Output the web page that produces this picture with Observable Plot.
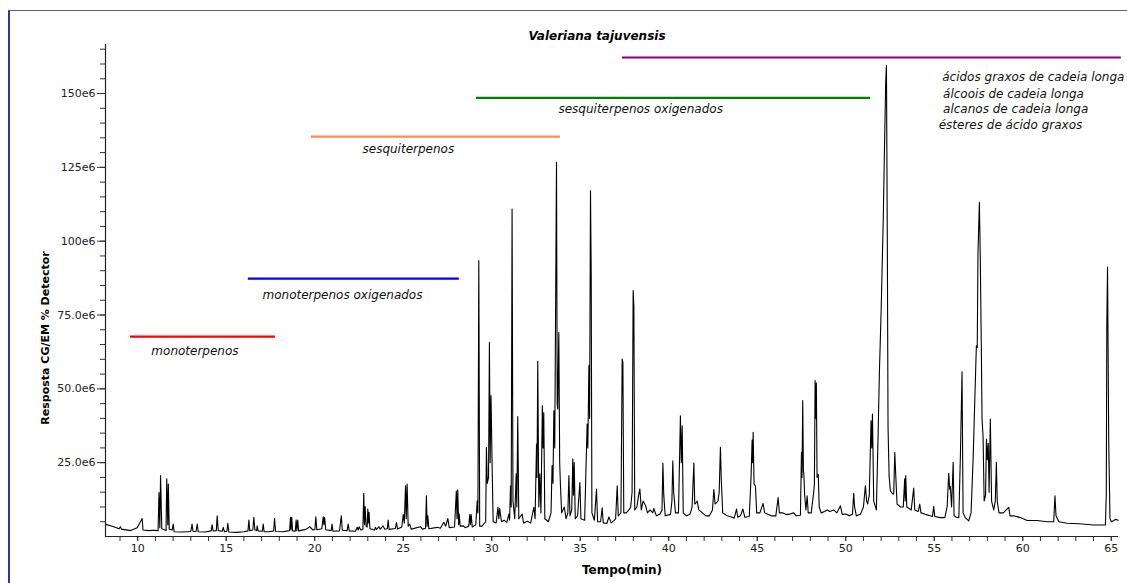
<!DOCTYPE html>
<html>
<head>
<meta charset="utf-8">
<script src="https://cdn.jsdelivr.net/npm/d3@7"></script>
<script src="https://cdn.jsdelivr.net/npm/@observablehq/plot@0.6"></script>
<style>
  html, body { margin: 0; padding: 0; background: #fff; }
  #wrap { position: relative; width: 1127px; height: 583px; overflow: hidden; }
  #frame { position: absolute; left: 8px; top: 10px; width: 1140px; height: 600px;
           border-left: 2px solid #33339a; border-top: 1px solid #5c5cae; pointer-events: none; }
  #ylab { position: absolute; left: 45px; top: 338px; transform: translate(-50%, -50%) rotate(-90deg);
          font: bold 11px "DejaVu Sans", sans-serif; color: #000; white-space: nowrap; }
</style>
</head>
<body>
<div id="wrap"><div id="chart"></div><div id="ylab"></div><div id="frame"></div></div>
<script>
// ---- Texts ----
const title = "Valeriana tajuvensis";
const xLabel = "Tempo(min)";
const yLabel = "Resposta CG/EM % Detector";

// ---- Compound classes (retention-time ranges) ----
const classNames = ["monoterpenos", "monoterpenos oxigenados", "sesquiterpenos", "sesquiterpenos oxigenados", "ácidos graxos etc."];
const classStart = [9.59, 16.25, 19.81, 29.14, 37.38];
const classEnd   = [17.78, 28.17, 33.88, 51.40, 65.57];
const classLevel = [67.7, 87.3, 135.4, 148.5, 162.2];   // ×1e6
const classColor = ["#ff0000", "#0000ff", "#ff8a55", "#008000", "#800080"];

// ---- Class annotations ----
const noteText  = ["monoterpenos", "monoterpenos oxigenados", "sesquiterpenos", "sesquiterpenos oxigenados",
                   "ácidos graxos de cadeia longa", "álcoois de cadeia longa", "alcanos de cadeia longa", "ésteres de ácido graxos"];
const noteTime  = [10.77, 17.05, 22.70, 33.77, 55.45, 55.50, 55.50, 55.25];
const noteLevel = [62.9, 81.6, 131.3, 144.8, 155.4, 149.7, 144.6, 139.2];

// ---- Axis ticks ----
const xTicks = [10, 15, 20, 25, 30, 35, 40, 45, 50, 55, 60, 65];
const yTicks = [25, 50, 75, 100, 125, 150];
const yTickLabels = ["25.0e6", "50.0e6", "75.0e6", "100e6", "125e6", "150e6"];

// ---- Chromatogram trace: [time (min), response (×1e6)] ----
const chromatogram = [
[8.2,4.1],[8.6,3.4],[8.95,2.6],[9.02,3.3],[9.08,2.5],[9.6,2.0],[9.97,3.0],[10.25,6.1],[10.3,2.2],[10.6,2.0],[10.9,2.1],[11.15,2.0],
[11.2,14.9],[11.25,3.0],[11.29,20.6],[11.36,2.6],[11.6,2.0],[11.64,19.5],[11.7,4.0],[11.73,17.8],[11.78,2.5],[11.95,2.2],[12.0,4.2],
[12.06,1.6],[12.5,1.5],[13.0,1.7],[13.07,4.2],[13.12,1.8],[13.3,1.7],[13.36,4.2],[13.42,1.6],[13.8,1.5],[14.15,1.9],[14.2,4.0],
[14.26,1.9],[14.44,2.0],[14.49,7.0],[14.55,2.0],[14.78,1.8],[14.83,3.1],[14.9,1.6],[15.04,1.8],[15.09,4.5],[15.15,1.5],[15.6,1.4],
[16.0,1.6],[16.23,1.9],[16.28,5.6],[16.33,2.0],[16.5,2.2],[16.56,6.5],[16.62,2.2],[16.72,2.0],[16.75,3.6],[16.8,1.9],[17.04,1.8],
[17.09,4.2],[17.14,1.6],[17.4,1.6],[17.68,1.9],[17.73,6.1],[17.79,1.7],[18.2,1.6],[18.58,2.0],[18.63,6.5],[18.66,2.2],[18.7,6.5],
[18.75,1.9],[18.9,1.8],[18.95,5.6],[18.99,2.0],[19.04,5.6],[19.09,1.9],[19.5,2.4],[19.72,3.3],[19.9,2.2],[20.01,2.4],[20.06,6.7],
[20.12,2.3],[20.4,2.6],[20.48,6.7],[20.52,4.0],[20.56,6.5],[20.62,2.3],[20.93,2.0],[20.98,4.2],[21.03,1.8],[21.4,1.9],[21.5,7.0],
[21.56,2.1],[21.83,2.0],[21.89,4.2],[21.95,1.9],[22.3,1.8],[22.4,3.1],[22.45,2.2],[22.51,3.3],[22.6,2.2],[22.72,2.4],[22.77,14.6],
[22.81,4.0],[22.85,10.1],[22.9,3.5],[22.96,3.2],[23.0,9.3],[23.03,4.5],[23.07,8.2],[23.12,2.6],[23.38,2.2],[23.43,3.1],[23.5,2.4],
[23.62,3.3],[23.7,2.5],[23.86,3.6],[23.95,2.5],[24.1,2.6],[24.15,5.6],[24.2,2.4],[24.55,2.7],[24.62,4.7],[24.68,2.5],[24.92,3.2],
[25.0,7.4],[25.06,4.5],[25.13,17.2],[25.17,6.0],[25.22,17.8],[25.28,3.5],[25.37,4.2],[25.45,2.5],[25.97,3.3],[26.1,2.5],[26.26,2.8],
[26.31,13.8],[26.35,3.5],[26.39,7.0],[26.45,2.6],[26.92,3.1],[27.1,2.8],[27.29,4.8],[27.4,3.5],[27.52,6.1],[27.6,3.0],[27.9,3.2],
[28.0,15.4],[28.04,6.0],[28.08,15.8],[28.13,4.0],[28.16,7.6],[28.22,3.5],[28.4,3.6],[28.5,3.0],[28.7,3.5],[28.76,7.4],[28.8,4.0],
[28.84,7.4],[28.9,3.2],[29.1,4.0],[29.18,12.1],[29.22,8.0],[29.27,93.4],[29.32,3.5],[29.45,3.5],[29.66,5.0],[29.7,30.2],[29.75,18],
[29.82,20],[29.87,65.8],[29.91,25],[29.96,47.7],[30.02,24.7],[30.08,5.0],[30.25,4.6],[30.35,9.9],[30.4,6.0],[30.45,9.5],[30.55,5.0],
[30.7,5.5],[30.85,4.8],[30.97,7.6],[31.01,5.5],[31.06,17.2],[31.1,10],[31.15,110.9],[31.2,12],[31.3,6.0],[31.38,21.2],[31.42,10],[31.47,40.6],
[31.53,6.0],[31.72,7.6],[31.8,4.5],[32.0,5.2],[32.2,4.6],[32.38,9.9],[32.45,6.0],[32.53,31.3],[32.56,20],[32.6,59.3],[32.66,10],[32.72,21.2],
[32.78,8.0],[32.86,44.3],[32.9,30],[32.94,42],[33.0,6.0],[33.2,5.0],[33.35,8.0],[33.41,24.0],[33.46,18],[33.51,42.6],[33.56,30],
[33.66,126.7],[33.7,45],[33.73,43.2],[33.79,69.1],[33.84,25],[33.88,17.7],[33.95,8.0],[34.1,10],[34.2,6.0],[34.3,8.0],[34.36,20.6],
[34.42,7.0],[34.52,9.0],[34.58,26.3],[34.62,14],[34.66,25],[34.72,6.0],[34.85,7.0],[34.98,18.3],[35.04,6.0],[35.25,5.5],[35.39,38.1],
[35.43,30],[35.49,57.9],[35.53,40],[35.58,117.1],[35.62,88.9],[35.66,8.0],[35.8,5.5],[35.92,16.1],[35.98,5.0],[36.15,5.0],[36.24,9.7],
[36.3,4.6],[36.5,4.4],[36.62,6.6],[36.75,4.6],[36.9,5.4],[37.0,6.0],[37.09,17.2],[37.15,7.0],[37.3,8.0],[37.37,60.1],[37.41,59],
[37.46,8.0],[37.6,8.0],[37.75,9.0],[37.85,10],[37.93,15],[37.99,83.3],[38.03,78],[38.08,9.0],[38.2,10],[38.3,14],[38.37,16.1],
[38.45,9.0],[38.55,12],[38.69,10.5],[38.8,8.0],[38.95,9.0],[39.1,8.0],[39.16,9.5],[39.3,7.0],[39.5,7.5],[39.62,9.0],[39.67,24.9],
[39.72,14],[39.8,7.0],[40.1,7.5],[40.18,12],[40.23,25.6],[40.28,15],[40.38,8.0],[40.55,8.0],[40.66,40.9],[40.71,25],[40.76,37.5],
[40.82,8.0],[41.0,7.0],[41.2,7.5],[41.32,10],[41.42,24.9],[41.47,11],[41.55,11.5],[41.61,12],[41.7,9.0],[41.9,8.0],[42.1,7.0],
[42.3,7.0],[42.47,9.0],[42.55,15.9],[42.62,11],[42.78,12],[42.85,15],[42.92,30.2],[42.97,19],[43.05,8.0],[43.3,7.0],[43.6,6.5],
[43.7,6.2],[43.83,9.3],[43.9,6.5],[44.05,7.0],[44.19,9.3],[44.3,6.5],[44.55,6.8],[44.65,20],[44.71,32.7],[44.74,25],[44.77,35.3],
[44.82,17.9],[44.9,17],[44.97,8.0],[45.15,8.0],[45.33,11.2],[45.42,8.0],[45.6,7.5],[45.8,7.0],[46.05,7.0],[46.18,13.2],[46.25,8.0],
[46.45,8.0],[46.6,7.5],[46.8,7.5],[47.06,8.0],[47.2,7.0],[47.44,7.2],[47.5,28.5],[47.53,20],[47.57,46.0],[47.61,22],[47.63,21.7],
[47.68,14],[47.75,9.0],[47.82,13.8],[47.88,8.0],[48.05,8.0],[48.19,15],[48.23,18],[48.27,52.8],[48.3,40],[48.34,52],[48.38,20],
[48.45,21],[48.5,10],[48.61,8.0],[48.8,8.5],[48.95,9.0],[49.1,8.5],[49.32,9.0],[49.5,8.0],[49.7,10.4],[49.8,7.5],[50.0,7.6],
[50.2,7.0],[50.38,7.5],[50.45,14.6],[50.5,10],[50.6,7.0],[50.83,7.5],[51.0,10],[51.11,17.2],[51.18,12],[51.24,11],[51.33,14],
[51.43,39.2],[51.47,30],[51.51,41.5],[51.58,12],[51.73,9.0],[51.83,34.7],[51.9,55],[52.0,76.5],[52.12,107.5],[52.2,135.2],
[52.26,154.4],[52.3,159.5],[52.35,99],[52.39,37],[52.45,20.6],[52.52,15.5],[52.65,14.4],[52.71,14.4],[52.77,28.5],[52.83,20.1],
[52.9,11],[53.09,10],[53.25,10],[53.33,19.5],[53.36,12],[53.39,20.6],[53.45,10],[53.7,9.0],[53.84,16.4],[53.9,9.0],[54.1,8.5],
[54.18,11],[54.25,8.0],[54.5,7.5],[54.78,7.0],[54.9,6.8],[54.97,10.2],[55.03,6.8],[55.35,6.4],[55.6,6.4],[55.73,10.2],[55.82,21.4],
[55.87,16],[55.91,17],[55.98,10],[56.07,25.1],[56.12,7.0],[56.25,6.5],[56.39,6.4],[56.48,27.9],[56.57,55.8],[56.63,8.0],[56.75,6.4],
[56.95,5.3],[57.08,8.0],[57.2,26.8],[57.29,46],[57.38,64.6],[57.43,64],[57.47,95.7],[57.55,113.2],[57.6,95],[57.66,64],[57.7,40],
[57.76,33.6],[57.82,12],[57.9,14],[57.95,33],[58.0,26],[58.05,31.6],[58.1,15],[58.17,39.8],[58.24,12],[58.36,9.0],[58.45,12],
[58.51,25.1],[58.56,12],[58.66,8.0],[58.9,8.0],[59.21,9.9],[59.28,7.0],[59.49,7.0],[59.87,6.4],[60.25,5.4],[60.8,5.4],[61.38,5.0],
[61.75,5.0],[61.82,13.8],[61.88,7.0],[62.04,5.0],[62.5,4.5],[63.2,4.3],[64.01,3.9],[64.67,3.9],[64.72,14.1],[64.75,71.4],[64.79,91.2],
[64.86,30.8],[64.93,6.0],[65.01,5.0],[65.14,5.4],[65.24,5.8],[65.4,5.5]
];

// ---- Build tables ----
const trace = chromatogram.map(([t, v]) => ({t, v}));
const classes = classNames.map((name, i) => ({name, x1: classStart[i], x2: classEnd[i], y: classLevel[i], color: classColor[i]}));
const notes = noteText.map((text, i) => ({text, x: noteTime[i], y: noteLevel[i]}));
const yLabelMap = new Map(yTicks.map((d, i) => [d, yTickLabels[i]]));

const xDomain = [8.18, 65.41];
const yDomain = [0, 166.6];
const font = "'DejaVu Sans', sans-serif";

const chart = Plot.plot({
  width: 1127,
  height: 583,
  marginLeft: 105,
  marginRight: 9,
  marginTop: 44,
  marginBottom: 47,
  style: {fontFamily: font, fontSize: "11px", background: "white", color: "#222"},
  x: {domain: xDomain},
  y: {domain: yDomain},
  marks: [
    // minor ticks
    Plot.axisX(d3.range(9, 66), {tickSize: 5, tickFormat: () => "", label: null, stroke: "#333"}),
    Plot.axisY(d3.range(5, 166, 5), {tickSize: 5, tickFormat: () => "", label: null, stroke: "#333"}),
    // major ticks with labels
    Plot.axisX(xTicks, {tickSize: 5, tickPadding: 3, tickFormat: d => String(d), label: null, stroke: "#333", fill: "#222"}),
    Plot.axisY(yTicks, {tickSize: 8, tickPadding: 2, tickFormat: d => yLabelMap.get(d), label: null, stroke: "#333", fill: "#222"}),
    // axis lines
    Plot.ruleX([xDomain[0]], {stroke: "#222", strokeWidth: 1.2}),
    Plot.ruleY([yDomain[0]], {stroke: "#222", strokeWidth: 1.2}),
    // chromatogram
    Plot.line(trace, {x: "t", y: "v", stroke: "black", strokeWidth: 1.1}),
    // class ranges
    Plot.ruleY(classes, {x1: "x1", x2: "x2", y: "y", stroke: "color", strokeWidth: 2.2}),
    Plot.text(notes, {x: "x", y: "y", text: "text", textAnchor: "start", lineAnchor: "middle",
      fontStyle: "italic", fontSize: 12, fill: "#111", letterSpacing: "0.15px"}),
    // title and x label
    Plot.text([title], {frameAnchor: "top", dx: -15, dy: -8, lineAnchor: "middle",
      fontWeight: "bold", fontStyle: "italic", fontSize: 12, fill: "#000"}),
    Plot.text([xLabel], {frameAnchor: "bottom", dx: 10, dy: 34, lineAnchor: "middle",
      fontWeight: "bold", fontSize: 12, fill: "#000"})
  ]
});
document.getElementById("chart").appendChild(chart);
document.getElementById("ylab").textContent = yLabel;
</script>
</body>
</html>
